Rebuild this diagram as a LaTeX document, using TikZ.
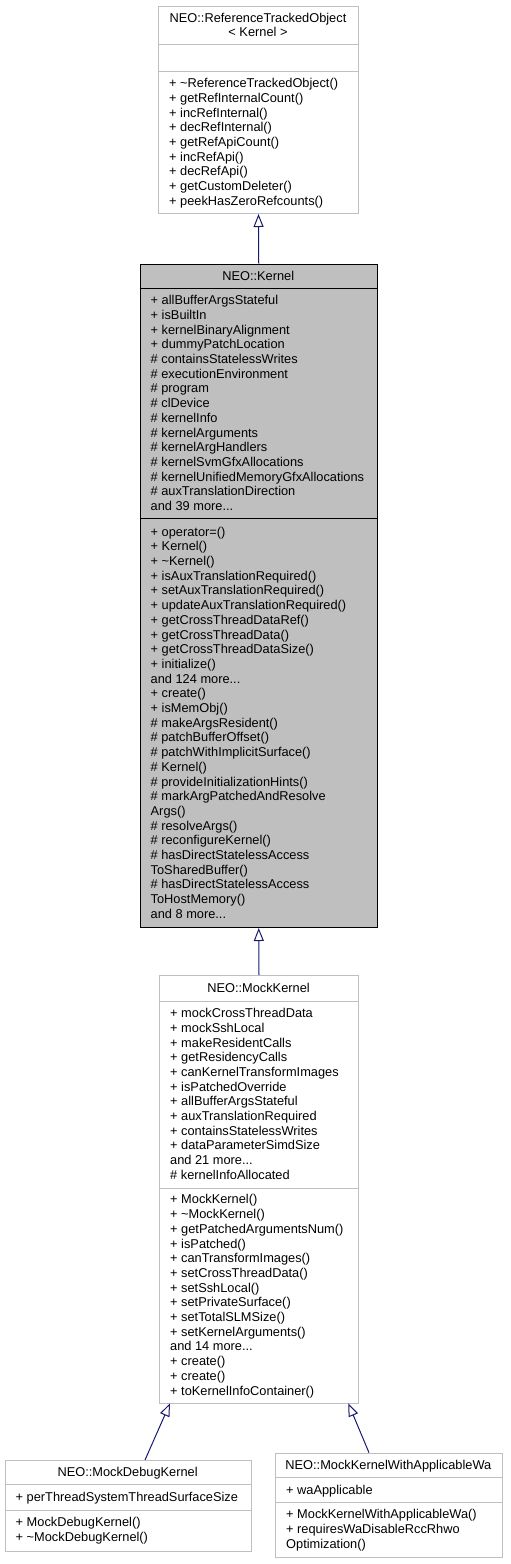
\documentclass[tikz,border=0pt]{standalone}
\usepackage{fontspec}
\setmainfont{Liberation Sans}
\usetikzlibrary{arrows.meta}
\definecolor{boxgray}{HTML}{BFBFBF}
\definecolor{edgeblue}{HTML}{191970}
\newcommand{\ml}[4]{% x, first center y, name prefix, list
  \foreach \t [count=\i from 0] in {#4} {
    \node[txt, anchor=base west] (#3\i) at (#1, #2+4.4+\i*14.7) {\t};
  }}
\newcommand{\dd}{.{}.{}.}
\begin{document}
\begin{tikzpicture}[x=1pt,y=-1pt,
  txt/.style={inner sep=0pt, font=\fontsize{12.8}{14.7}\selectfont, text=black},
  cls/.style={draw=boxgray, line width=1pt, fill=white, anchor=north west, inner sep=0pt},
  sepline/.style={draw=boxgray, line width=1pt},
  inh/.style={draw=edgeblue, line width=1pt, {Triangle[open, length=13pt, width=10pt, fill=white]}-},
]
\useasboundingbox (0,0) rectangle (511,1564);

% ReferenceTrackedObject
\node[cls, minimum width=200pt, minimum height=207pt] (rto) at (158,6) {};
\draw[sepline] (158,44) -- (358,44);
\draw[sepline] (158,71) -- (358,71);
\node[txt, anchor=base] (rtot1) at (258,17.7+4.4) {NEO::ReferenceTrackedObject};
\node[txt, anchor=base] (rtot2) at (258,32.4+4.4) {< Kernel >};
\ml{169}{83.2}{rtom}{{+ \textasciitilde ReferenceTrackedObject()},{+ getRefInternalCount()},{+ incRefInternal()},{+ decRefInternal()},{+ getRefApiCount()},{+ incRefApi()},{+ decRefApi()},{+ getCustomDeleter()},{+ peekHasZeroRefcounts()}}

% Kernel
\node[cls, draw=black, fill=boxgray, minimum width=237.5pt, minimum height=663.5pt] (kernel) at (139.5,263.5) {};
\draw[line width=1pt, black] (139.5,288) -- (377,288);
\draw[line width=1pt, black] (139.5,518) -- (377,518);
\node[txt, anchor=base] (kt) at (258.25,275.8+4.4) {NEO::Kernel};
\ml{150.5}{300.3}{ka}{{+ allBufferArgsStateful},{+ isBuiltIn},{+ kernelBinaryAlignment},{+ dummyPatchLocation},{\# containsStatelessWrites},{\# executionEnvironment},{\# program},{\# clDevice},{\# kernelInfo},{\# kernelArguments},{\# kernelArgHandlers},{\# kernelSvmGfxAllocations},{\# kernelUnifiedMemoryGfxAllocations},{\# auxTranslationDirection},{and 39 more\dd}}
\ml{150.5}{531.7}{km}{{+ operator=()},{+ Kernel()},{+ \textasciitilde Kernel()},{+ isAuxTranslationRequired()},{+ setAuxTranslationRequired()},{+ updateAuxTranslationRequired()},{+ getCrossThreadDataRef()},{+ getCrossThreadData()},{+ getCrossThreadDataSize()},{+ initialize()},{and 124 more\dd},{+ create()},{+ isMemObj()},{\# makeArgsResident()},{\# patchBufferOffset()},{\# patchWithImplicitSurface()},{\# Kernel()},{\# provideInitializationHints()},{\# markArgPatchedAndResolve},{Args()},{\# resolveArgs()},{\# reconfigureKernel()},{\# hasDirectStatelessAccess},{ToSharedBuffer()},{\# hasDirectStatelessAccess},{ToHostMemory()},{and 8 more\dd}}

% MockKernel
\node[cls, minimum width=199pt, minimum height=428.3pt] (mock) at (159,975) {};
\draw[sepline] (159,1001) -- (358,1001);
\draw[sepline] (159,1188) -- (358,1188);
\node[txt, anchor=base] (mt) at (258.5,987.6+4.4) {NEO::MockKernel};
\ml{170}{1013.2}{ma}{{+ mockCrossThreadData},{+ mockSshLocal},{+ makeResidentCalls},{+ getResidencyCalls},{+ canKernelTransformImages},{+ isPatchedOverride},{+ allBufferArgsStateful},{+ auxTranslationRequired},{+ containsStatelessWrites},{+ dataParameterSimdSize},{and 21 more\dd},{\# kernelInfoAllocated}}
\ml{170}{1199.5}{mm}{{+ MockKernel()},{+ \textasciitilde MockKernel()},{+ getPatchedArgumentsNum()},{+ isPatched()},{+ canTransformImages()},{+ setCrossThreadData()},{+ setSshLocal()},{+ setPrivateSurface()},{+ setTotalSLMSize()},{+ setKernelArguments()},{and 14 more\dd},{+ create()},{+ create()},{+ toKernelInfoContainer()}}

% MockDebugKernel
\node[cls, minimum width=246.2pt, minimum height=90.5pt] (mdk) at (4.5,1460) {};
\draw[sepline] (4.5,1484.5) -- (250.7,1484.5);
\draw[sepline] (4.5,1510) -- (250.7,1510);
\node[txt, anchor=base] (mdkt) at (127.6,1472+4.4) {NEO::MockDebugKernel};
\ml{15.5}{1497.3}{mdka}{{+ perThreadSystemThreadSurfaceSize}}
\ml{15.5}{1522.5}{mdkm}{{+ MockDebugKernel()},{+ \textasciitilde MockDebugKernel()}}

% MockKernelWithApplicableWa
\node[cls, minimum width=226.7pt, minimum height=104.5pt] (mkw) at (275,1452.7) {};
\draw[sepline] (275,1477.5) -- (501.7,1477.5);
\draw[sepline] (275,1502.5) -- (501.7,1502.5);
\node[txt, anchor=base] (mkwt) at (388.35,1465+4.4) {NEO::MockKernelWithApplicableWa};
\ml{286}{1490}{mkwa}{{+ waApplicable}}
\ml{286}{1514.5}{mkwm}{{+ MockKernelWithApplicableWa()},{+ requiresWaDisableRccRhwo},{Optimization()}}

% inheritance edges
\coordinate (mockL) at (170,1403.3);
\coordinate (mockR) at (348.3,1403.3);
\coordinate (mdkT) at (145,1460);
\coordinate (mkwT) at (369,1452.7);
\draw[inh] (rto.south) -- (kernel.north);
\draw[inh] (kernel.south) -- (mock.north);
\draw[inh] (mockL) -- (mdkT);
\draw[inh] (mockR) -- (mkwT);
\end{tikzpicture}
\end{document}
